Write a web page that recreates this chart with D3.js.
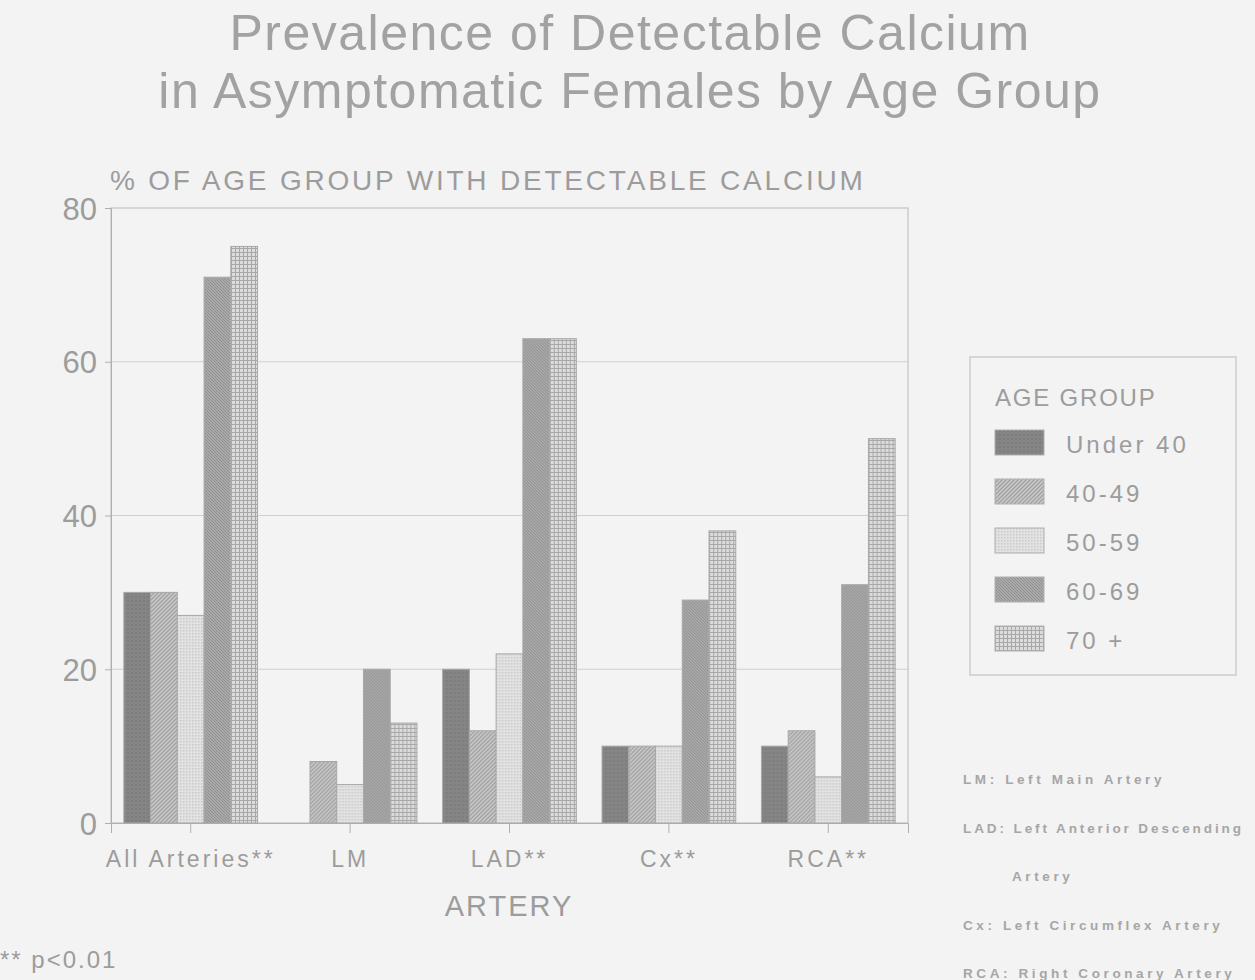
<!DOCTYPE html>
<html>
<head>
<meta charset="utf-8">
<script src="https://cdn.jsdelivr.net/npm/d3@7"></script>
<style>
  body { margin: 0; background: #f3f3f3; }
  svg { display: block; font-family: "Liberation Sans", Arial, sans-serif; }
</style>
</head>
<body>
<svg id="chart" width="1255" height="980"></svg>
<script>
// values (% of age group with detectable calcium)
var arteries = ["All Arteries**", "LM", "LAD**", "Cx**", "RCA**"];
var ageGroups = ["Under 40", "40-49", "50-59", "60-69", "70 +"];
var under40 = [30, 0, 20, 10, 10];
var age4049 = [30, 8, 12, 10, 12];
var age5059 = [27, 5, 22, 10, 6];
var age6069 = [71, 20, 63, 29, 31];
var age70plus = [75, 13, 63, 38, 50];
var yTicks = [0, 20, 40, 60, 80];
var notes = ["LM: Left Main Artery", "LAD: Left Anterior Descending", "Artery",
             "Cx: Left Circumflex Artery", "RCA: Right Coronary Artery"];

var series = [under40, age4049, age5059, age6069, age70plus];
var txt = "#9c9c9c";

var svg = d3.select("#chart");
var margin = {left: 111, top: 208, right: 908, bottom: 823};

// fill patterns for the age groups
var defs = svg.append("defs");
function pattern(id, size, bg, draw) {
    var p = defs.append("pattern").attr("id", id)
        .attr("patternUnits", "userSpaceOnUse")
        .attr("width", size).attr("height", size);
    p.append("rect").attr("width", size).attr("height", size).attr("fill", bg);
    draw(p);
}
pattern("p0", 4, "#858585", function (p) {
    p.append("rect").attr("width", 2).attr("height", 2).attr("fill", "#7d7d7d");
});
pattern("p1", 4, "#cbcbcb", function (p) {
    p.append("path").attr("d", "M-1,1 l2,-2 M0,4 l4,-4 M3,5 l2,-2")
        .attr("stroke", "#a0a0a0").attr("stroke-width", 1.3);
});
pattern("p2", 3, "#e2e2e2", function (p) {
    p.append("rect").attr("width", 1.5).attr("height", 1.5).attr("fill", "#cacaca");
});
pattern("p3", 3, "#a9a9a9", function (p) {
    p.append("path").attr("d", "M-1,2 l2,2 M0,0 l3,3 M2,-1 l2,2")
        .attr("stroke", "#909090").attr("stroke-width", 1);
});
pattern("p4", 4, "#dcdcdc", function (p) {
    p.append("path").attr("d", "M0,0.5 H4 M0.5,0 V4")
        .attr("stroke", "#a8a8a8").attr("stroke-width", 1);
});

var x0 = d3.scaleBand().domain(arteries).range([margin.left, margin.right]);
var x1 = d3.scaleBand().domain(ageGroups).range([0, x0.bandwidth()]).paddingInner(0).paddingOuter(0.48);
var y = d3.scaleLinear().domain([0, 80]).range([margin.bottom, margin.top]);

// titles
svg.append("text").attr("x", 630).attr("y", 50).attr("text-anchor", "middle")
    .attr("font-size", 50).attr("fill", "#a2a2a2").attr("letter-spacing", 1.5)
    .text("Prevalence of Detectable Calcium");
svg.append("text").attr("x", 630).attr("y", 108).attr("text-anchor", "middle")
    .attr("font-size", 50).attr("fill", "#a2a2a2").attr("letter-spacing", 1.5)
    .text("in Asymptomatic Females by Age Group");

svg.append("text").attr("x", 110).attr("y", 190)
    .attr("font-size", 28).attr("fill", txt).attr("letter-spacing", 2.8)
    .text("% OF AGE GROUP WITH DETECTABLE CALCIUM");

// plot frame + gridlines
svg.append("rect").attr("x", margin.left).attr("y", margin.top)
    .attr("width", margin.right - margin.left).attr("height", margin.bottom - margin.top)
    .attr("fill", "none").attr("stroke", "#c4c4c4").attr("stroke-width", 1.2);
svg.append("g").selectAll("line").data(yTicks.slice(1, -1)).join("line")
    .attr("x1", margin.left).attr("x2", margin.right)
    .attr("y1", function (d) { return y(d); }).attr("y2", function (d) { return y(d); })
    .attr("stroke", "#cfcfcf").attr("stroke-width", 1.2);

// y axis
var yAxis = svg.append("g").attr("transform", "translate(" + margin.left + ",0)")
    .call(d3.axisLeft(y).tickValues(yTicks).tickSize(6).tickPadding(8));
yAxis.select(".domain").attr("stroke", "#b0b0b0");
yAxis.selectAll(".tick line").attr("stroke", "#b0b0b0");
yAxis.selectAll(".tick text").attr("font-size", 31).attr("fill", txt)
    .attr("font-family", "Liberation Sans, Arial, sans-serif").attr("dy", "0.36em");

// x axis
var xAxis = svg.append("g").attr("transform", "translate(0," + margin.bottom + ")")
    .call(d3.axisBottom(x0).tickSize(10).tickPadding(18));
xAxis.select(".domain").attr("stroke", "#b0b0b0");
xAxis.selectAll(".tick line").attr("stroke", "#b0b0b0");
xAxis.selectAll(".tick text").attr("font-size", 23).attr("fill", txt)
    .attr("letter-spacing", 3).attr("font-family", "Liberation Sans, Arial, sans-serif");

svg.append("text").attr("x", 509).attr("y", 916).attr("text-anchor", "middle")
    .attr("font-size", 29).attr("fill", txt).attr("letter-spacing", 2).text("ARTERY");

// bars
var groups = svg.append("g").selectAll("g").data(arteries).join("g")
    .attr("transform", function (d) { return "translate(" + x0(d) + ",0)"; });
groups.selectAll("rect")
    .data(function (d, i) { return ageGroups.map(function (g, k) { return {g: g, k: k, v: series[k][i]}; }); })
    .join("rect")
    .filter(function (d) { return d.v > 0; })
    .attr("x", function (d) { return x1(d.g); })
    .attr("width", x1.bandwidth())
    .attr("y", function (d) { return y(d.v); })
    .attr("height", function (d) { return y(0) - y(d.v); })
    .attr("fill", function (d) { return "url(#p" + d.k + ")"; })
    .attr("stroke", "#a8a8a8").attr("stroke-width", 1);

// legend
var lg = svg.append("g");
lg.append("rect").attr("x", 970).attr("y", 357).attr("width", 266).attr("height", 318)
    .attr("fill", "none").attr("stroke", "#c4c4c4").attr("stroke-width", 1.2);
lg.append("text").attr("x", 995).attr("y", 406).attr("font-size", 24)
    .attr("fill", txt).attr("letter-spacing", 1.8).text("AGE GROUP");
var rows = lg.selectAll("g.row").data(ageGroups).join("g").attr("class", "row")
    .attr("transform", function (d, i) { return "translate(995," + (430 + i * 49) + ")"; });
rows.append("rect").attr("width", 49).attr("height", 25)
    .attr("fill", function (d, i) { return "url(#p" + i + ")"; })
    .attr("stroke", "#b0b0b0").attr("stroke-width", 1);
rows.append("text").attr("x", 71).attr("y", 23).attr("font-size", 24)
    .attr("fill", txt).attr("letter-spacing", 3).text(function (d) { return d; });

// abbreviation notes
svg.append("g").selectAll("text").data(notes).join("text")
    .attr("x", function (d, i) { return i === 2 ? 1012 : 963; })
    .attr("y", function (d, i) { return 784 + i * 48.5; })
    .attr("font-size", 13.5).attr("font-weight", "bold").attr("fill", "#a6a6a6")
    .attr("letter-spacing", function (d, i) { return i === 1 ? 2.9 : 3.6; })
    .text(function (d) { return d; });

svg.append("text").attr("x", 0).attr("y", 968).attr("font-size", 24)
    .attr("fill", txt).attr("letter-spacing", 2).text("** p<0.01");
</script>
</body>
</html>
